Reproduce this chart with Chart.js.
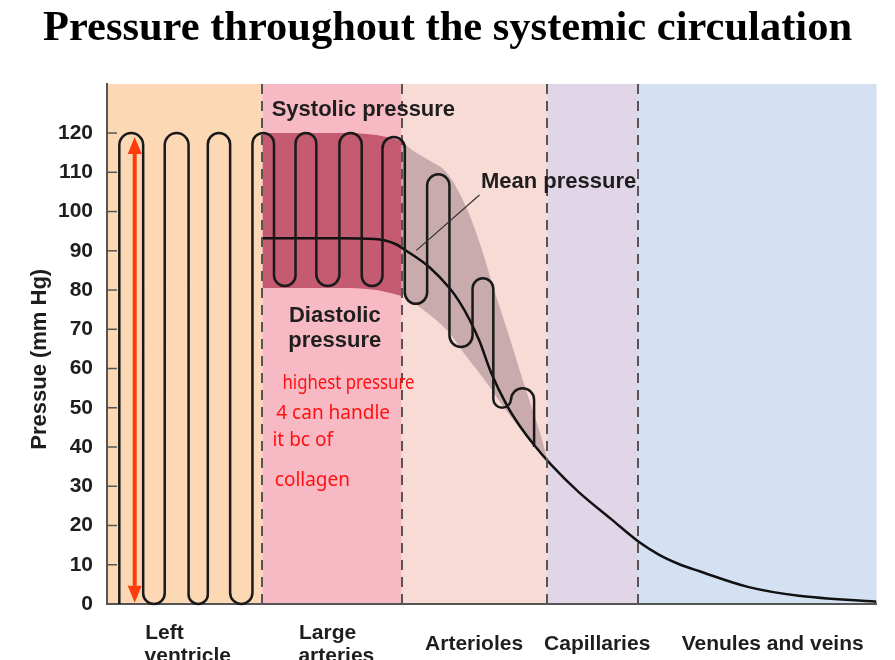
<!DOCTYPE html>
<html>
<head>
<meta charset="utf-8">
<script src="https://cdn.jsdelivr.net/npm/chart.js@4.4.1/dist/chart.umd.min.js"></script>
<style>
  html, body { margin: 0; padding: 0; background: #fff; }
  canvas { display: block; }
</style>
</head>
<body>
<canvas id="chart" width="895" height="660"></canvas>
<script>
// x is a relative position along the circulation (0 = heart, 100 = end of veins)
const regionEdges = [0, 20.2, 38.3, 57.2, 69.0, 100];
const regionColors = ['#fcd8b4', '#f7bac4', '#f9dbd6', '#e0d6e7', '#d4e1f3'];
const regionLabelPos = [10.5, 29.8, 47.7, 63.7, 86.5];
const regionLabels = [['Left        ', 'ventricle'], ['Large   ', 'arteries'], 'Arterioles', 'Capillaries', 'Venules and veins'];
const pressureTicks = [0, 10, 20, 30, 40, 50, 60, 70, 80, 90, 100, 110, 120];

// pressure wave: vertical strokes and the value at each turn
const waveX = [1.6, 4.7, 7.5, 10.6, 13.1, 16.0, 18.9, 21.7, 24.5, 27.2, 30.2, 33.1, 35.8, 38.7, 41.6, 44.5, 47.5, 50.2, 52.5, 55.5];
const waveStart = 0;
const waveTurns = [120, 0, 120, 0, 120, 0, 120, 81, 120, 81, 120, 81, 119, 76.5, 109.5, 65.5, 83, 50, 55];
const waveEnd = 40;

// mean pressure
const meanX = [20.2, 25.0, 30.2, 34.8, 37.4, 38.9, 41.9, 44.5, 45.8, 47.1, 48.4, 49.9, 52.0, 53.6, 55.5, 57.7, 61.3, 65.6, 69.0, 71.7, 74.3, 76.9, 83.4, 89.9, 100];
const meanP = [93.2, 93.2, 93.2, 93.0, 91.8, 90.0, 85.8, 80.5, 77, 72.5, 67, 59, 50.5, 45.5, 40.5, 35.5, 28.5, 21.5, 16, 12.6, 10.2, 8.4, 4.3, 2.1, 0.6];

// systolic / diastolic band
const arteryX = [20.2, 30.0, 35.0, 38.3];
const arterySys = [120, 120, 119.5, 118];
const arteryDia = [80.5, 80.5, 80, 78.5];
const arterioleSysX = [38.3, 39.7, 41.9, 44.1, 46.7, 48.6, 50.3, 52.3, 54.2, 56.2, 57.2];
const arterioleSys = [118, 115.6, 113, 110, 101, 91, 80, 68, 56, 44, 37];
const arterioleDiaX = [38.3, 41.2, 44.2, 46.8, 49.4, 51.6, 54.6, 57.2];
const arterioleDia = [79, 74.8, 69.7, 62.8, 56.2, 50, 42.4, 36.5];

const arrowX = 3.6;
const arrowRange = [0.3, 119];

const pts = (xs, ys) => xs.map((x, i) => ({ x: x, y: ys[i] }));

const SANS = 'Liberation Sans, Arial, sans-serif';

const annotate = {
  id: 'annotate',
  beforeDraw(chart) {
    const { ctx, chartArea: a, scales: { x } } = chart;
    ctx.save();
    for (let i = 0; i < regionColors.length; i++) {
      const x0 = x.getPixelForValue(regionEdges[i]);
      const x1 = x.getPixelForValue(regionEdges[i + 1]);
      ctx.fillStyle = regionColors[i];
      ctx.fillRect(x0, a.top, x1 - x0, a.bottom - a.top);
    }
    ctx.restore();
  },
  afterDatasetsDraw(chart) {
    const { ctx, chartArea: a, scales: { x, y } } = chart;
    ctx.save();

    // dashed borders between vessels
    ctx.strokeStyle = '#555';
    ctx.lineWidth = 2;
    ctx.setLineDash([10, 7]);
    for (let i = 1; i < regionEdges.length - 1; i++) {
      const px = Math.round(x.getPixelForValue(regionEdges[i]));
      ctx.beginPath();
      ctx.moveTo(px, a.top);
      ctx.lineTo(px, a.bottom);
      ctx.stroke();
    }
    ctx.setLineDash([]);

    // inward tick marks
    ctx.strokeStyle = '#555';
    ctx.lineWidth = 1.5;
    pressureTicks.forEach(v => {
      const py = y.getPixelForValue(v);
      ctx.beginPath();
      ctx.moveTo(a.left, py);
      ctx.lineTo(a.left + 10, py);
      ctx.stroke();
    });

    // pressure wave
    const px = waveX.map(v => x.getPixelForValue(v));
    ctx.strokeStyle = '#1a1a1a';
    ctx.lineWidth = 2.5;
    ctx.lineJoin = 'round';
    ctx.beginPath();
    ctx.moveTo(px[0], y.getPixelForValue(waveStart));
    let prev = waveStart;
    for (let i = 0; i < waveTurns.length; i++) {
      const r = (px[i + 1] - px[i]) / 2;
      const cx = (px[i] + px[i + 1]) / 2;
      const yv = y.getPixelForValue(waveTurns[i]);
      if (waveTurns[i] > prev) {
        ctx.lineTo(px[i], yv + r);
        ctx.arc(cx, yv + r, r, Math.PI, 0, false);
      } else {
        ctx.lineTo(px[i], yv - r);
        ctx.arc(cx, yv - r, r, Math.PI, 0, true);
      }
      prev = waveTurns[i];
    }
    ctx.lineTo(px[px.length - 1], y.getPixelForValue(waveEnd));
    ctx.stroke();

    // red double arrow
    const ax = x.getPixelForValue(arrowX);
    const yb = y.getPixelForValue(arrowRange[0]);
    const yt = y.getPixelForValue(arrowRange[1]);
    ctx.strokeStyle = '#ff3c0c';
    ctx.fillStyle = '#ff3c0c';
    ctx.lineWidth = 4;
    ctx.beginPath();
    ctx.moveTo(ax, yt + 14);
    ctx.lineTo(ax, yb - 14);
    ctx.stroke();
    ctx.beginPath();
    ctx.moveTo(ax, yt);
    ctx.lineTo(ax - 7, yt + 17);
    ctx.lineTo(ax + 7, yt + 17);
    ctx.closePath();
    ctx.fill();
    ctx.beginPath();
    ctx.moveTo(ax, yb);
    ctx.lineTo(ax - 7, yb - 17);
    ctx.lineTo(ax + 7, yb - 17);
    ctx.closePath();
    ctx.fill();

    // labels
    ctx.fillStyle = '#1e1e1e';
    ctx.font = 'bold 22px ' + SANS;
    ctx.textBaseline = 'middle';
    ctx.textAlign = 'left';
    ctx.fillText('Systolic pressure', x.getPixelForValue(21.4), y.getPixelForValue(125.9));
    ctx.fillText('Mean pressure', x.getPixelForValue(48.6), y.getPixelForValue(107.5));
    ctx.textAlign = 'center';
    ctx.fillText('Diastolic', x.getPixelForValue(29.6), y.getPixelForValue(73.3));
    ctx.fillText('pressure', x.getPixelForValue(29.6), y.getPixelForValue(67.1));

    // leader line to the mean curve
    ctx.strokeStyle = '#333';
    ctx.lineWidth = 1.2;
    ctx.beginPath();
    ctx.moveTo(x.getPixelForValue(40.2), y.getPixelForValue(90.1));
    ctx.lineTo(x.getPixelForValue(48.4), y.getPixelForValue(104.2));
    ctx.stroke();

    // handwritten note
    ctx.fillStyle = '#ff1010';
    ctx.textAlign = 'left';
    ctx.font = '19px "Noto Sans", sans-serif';
    ctx.fillText('highest pressure', x.getPixelForValue(22.8), y.getPixelForValue(56.2), 132);
    ctx.fillText('4 can handle', x.getPixelForValue(22.0), y.getPixelForValue(48.5), 123);
    ctx.fillText('it bc of', x.getPixelForValue(21.5), y.getPixelForValue(41.6), 68);
    ctx.fillText('collagen', x.getPixelForValue(21.8), y.getPixelForValue(31.4), 88);

    ctx.restore();
  }
};

new Chart(document.getElementById('chart'), {
  type: 'line',
  data: {
    datasets: [
      { label: 'Mean pressure', data: pts(meanX, meanP), borderColor: '#111', borderWidth: 2.5,
        pointRadius: 0, fill: false, cubicInterpolationMode: 'monotone' },
      { label: 'Systolic (large arteries)', data: pts(arteryX, arterySys), borderWidth: 0, pointRadius: 0,
        fill: '+1', backgroundColor: '#c45b70', cubicInterpolationMode: 'monotone' },
      { label: 'Diastolic (large arteries)', data: pts(arteryX, arteryDia), borderWidth: 0, pointRadius: 0,
        fill: false, cubicInterpolationMode: 'monotone' },
      { label: 'Systolic (arterioles)', data: pts(arterioleSysX, arterioleSys), borderWidth: 0, pointRadius: 0,
        fill: '+1', backgroundColor: '#c9abad', cubicInterpolationMode: 'monotone' },
      { label: 'Diastolic (arterioles)', data: pts(arterioleDiaX, arterioleDia), borderWidth: 0, pointRadius: 0,
        fill: false, cubicInterpolationMode: 'monotone' }
    ]
  },
  options: {
    responsive: false,
    animation: false,
    devicePixelRatio: 1,
    layout: { padding: 0 },
    plugins: {
      legend: { display: false },
      tooltip: { enabled: false },
      title: {
        display: true,
        text: 'Pressure throughout the systemic circulation',
        color: '#000',
        font: { family: 'Liberation Serif, Times New Roman, serif', size: 42.5, weight: 'bold' },
        padding: { top: 4, bottom: 29 }
      }
    },
    scales: {
      x: {
        type: 'linear', min: 0, max: 100,
        afterBuildTicks: s => { s.ticks = regionLabelPos.map(v => ({ value: v })); },
        afterFit: s => { s.height = 56; },
        ticks: {
          autoSkip: false, maxRotation: 0, minRotation: 0, crossAlign: 'center', padding: 29,
          color: '#1e1e1e',
          font: { family: SANS, size: 21, weight: 'bold', lineHeight: 1.1 },
          callback: (v, i) => regionLabels[i]
        },
        grid: { display: false, drawTicks: false },
        border: { color: '#555', width: 2 }
      },
      y: {
        min: 0, max: 132.5,
        afterBuildTicks: s => { s.ticks = pressureTicks.map(v => ({ value: v })); },
        afterFit: s => { s.width = 107; },
        ticks: { color: '#1e1e1e', padding: 14, font: { family: SANS, size: 21, weight: 'bold' } },
        grid: { display: false, drawTicks: false },
        border: { color: '#555', width: 2 },
        title: {
          display: true, text: 'Pressue (mm Hg)     ', color: '#1e1e1e',
          font: { family: SANS, size: 22, weight: 'bold' }, padding: { top: 27 }
        }
      },
      gutter: {
        position: 'right', display: true,
        afterFit: s => { s.width = 17; },
        ticks: { display: false },
        grid: { display: false, drawTicks: false },
        border: { display: false }
      }
    }
  },
  plugins: [annotate]
});
</script>
</body>
</html>
